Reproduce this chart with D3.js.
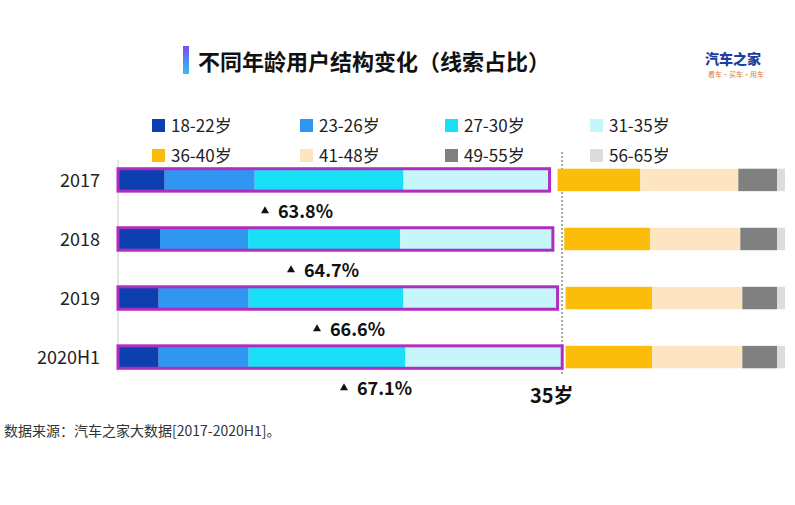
<!DOCTYPE html><html><head><meta charset="utf-8"><script src="https://cdn.jsdelivr.net/npm/d3@7"></script>
<style>body{margin:0;background:#fff}text{font-family:"Noto Sans CJK SC","Noto Sans",sans-serif}</style></head><body>
<svg id="c" width="795" height="505"></svg>
<script>
const years=["2017","2018","2019","2020H1"];
const groups=["18-22岁","23-26岁","27-30岁","31-35岁","36-40岁","41-48岁","49-55岁","56-65岁"];
const colors=["#0d3fb0","#2f97f2","#19e0f7","#c6f6fa","#fbbd0a","#fde5c2","#808080","#dcdcdc"];
const values=[
 [7.0,13.5,22.3,21.9,12.4,14.7,5.8,1.2],
 [6.3,13.2,22.8,22.9,12.9,13.5,5.5,1.2],
 [6.1,13.5,23.2,23.1,13.0,13.5,5.2,1.2],
 [6.1,13.5,23.5,23.5,13.0,13.5,5.2,1.2]];
const under35=["63.8%","64.7%","66.6%","67.1%"];
const svg=d3.select("#c");
const x=d3.scaleLinear().domain([0,100]).range([118,785]);
const y=d3.scaleBand().domain(years).range([151,386]).paddingInner(0.62).paddingOuter(0.3);
const g=svg.append("defs").append("linearGradient").attr("id","tg").attr("x1",0).attr("y1",0).attr("x2",0).attr("y2",1);
g.append("stop").attr("offset",0).attr("stop-color","#7a4cf0");g.append("stop").attr("offset",1).attr("stop-color","#2fc3f5");
svg.append("rect").attr("x",183).attr("y",46).attr("width",6).attr("height",28).attr("fill","url(#tg)");
svg.append("text").attr("x",198).attr("y",70).attr("font-size",22).attr("font-weight",700).attr("fill","#111").text("不同年龄用户结构变化（线索占比）");
svg.append("text").attr("x",705).attr("y",64).attr("font-size",14).attr("font-weight",900).attr("fill","#1f3f9c").text("汽车之家");
svg.append("text").attr("x",708).attr("y",77).attr("font-size",7).attr("fill","#e07a3a").text("看车·买车·用车");
const lx=[152,300,445,590];
groups.forEach((d,i)=>{const gx=lx[i%4],gy=i<4?126:156;
 svg.append("rect").attr("x",gx).attr("y",gy-7).attr("width",13).attr("height",13).attr("fill",colors[i]);
 svg.append("text").attr("x",gx+19).attr("y",gy+6).attr("font-size",17).attr("fill","#222").text(d);});
svg.append("line").attr("x1",118).attr("x2",118).attr("y1",160).attr("y2",372).attr("stroke","#ccc");
svg.append("line").attr("x1",562).attr("x2",562).attr("y1",152).attr("y2",376).attr("stroke","#555").attr("stroke-dasharray","2,2");
years.forEach((yr,r)=>{
 const yy=y(yr),h=y.bandwidth();let acc=0;const gap=100-d3.sum(values[r]);
 values[r].forEach((v,i)=>{const s=acc+(i>=4?gap:0);
  svg.append("rect").attr("x",x(s)).attr("y",yy).attr("width",x(s+v)-x(s)).attr("height",h).attr("fill",colors[i]);acc+=v;});
 const left=d3.sum(values[r].slice(0,4));
 svg.append("rect").attr("x",x(0)).attr("y",yy).attr("width",x(left)-x(0)).attr("height",h).attr("fill","none").attr("stroke","#b12cc0").attr("stroke-width",3);
 svg.append("text").attr("x",100).attr("y",yy+h/2+7).attr("text-anchor","end").attr("font-size",18).attr("fill","#222").text(yr);
 const cx=[265,291,317,344][r];
 svg.append("path").attr("d",`M${cx-4},${yy+h+22}L${cx+4},${yy+h+22}L${cx},${yy+h+15}Z`).attr("fill","#111");
 svg.append("text").attr("x",cx+13).attr("y",yy+h+27).attr("font-size",18).attr("font-weight",700).attr("fill","#111").text(under35[r]);
});
svg.append("text").attr("x",530).attr("y",403).attr("font-size",20).attr("font-weight",700).attr("fill","#111").text("35岁");
svg.append("text").attr("x",4).attr("y",436).attr("font-size",14).attr("fill","#333").text("数据来源：汽车之家大数据[2017-2020H1]。");
</script></body></html>
